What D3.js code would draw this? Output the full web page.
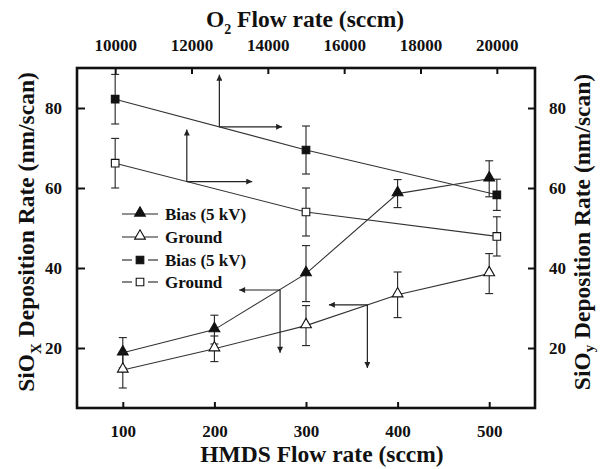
<!DOCTYPE html>
<html>
<head>
<meta charset="utf-8">
<script src="https://cdn.jsdelivr.net/npm/d3@7"></script>
<style>
  body { margin: 0; background: #fff; }
  text { font-family: "Times New Roman", "Liberation Serif", Times, serif; font-weight: bold; fill: #111; }
</style>
</head>
<body>
<svg id="chart" width="602" height="469"></svg>
<script>
// bottom axis series (HMDS flow)
var hmds = [100, 200, 300, 400, 500];
var biasTri = [18.8, 24.6, 38.6, 58.6, 62.3];
var biasTriErr = [3.8, 3.6, 7, 3.5, 4.5];
var groundTri = [14.5, 19.8, 25.6, 33.3, 38.6];
var groundTriErr = [4.5, 3.2, 5, 5.7, 5];

// top axis series (O2 flow)
var o2 = [10000, 15000, 20000];
var biasSq = [82.2, 69.5, 58.3];
var biasSqErr = [6.2, 6, 3.9];
var groundSq = [66.2, 54, 47.9];
var groundSqErr = [6.2, 6, 4.9];

var bottomTicks = [100, 200, 300, 400, 500];
var topTicks = [10000, 12000, 14000, 16000, 18000, 20000];
var yTicks = [20, 40, 60, 80];

var legendLabels = ["Bias (5 kV)", "Ground", "Bias (5 kV)", "Ground"];

// arrows pointing to the axis each curve belongs to (data units)
var arrowsTop = [
  {x: 12730, y: 75.3, vy: 88.3, hx: 14374},
  {x: 11877, y: 61.6, vy: 74.6, hx: 13591}
];
var arrowsBottom = [
  {x: 271.7, y: 34.5, vy: 18.8, hx: 227},
  {x: 367, y: 30.8, vy: 15, hx: 325}
];

var svg = d3.select("#chart");
var L = 77, R = 535, T = 68, B = 408;
var FONT = '"Times New Roman", "Liberation Serif", Times, serif';

var xB = d3.scaleLinear().domain([50, 550]).range([L, R]);
var xT = d3.scaleLinear().domain([9000, 21000]).range([L, R]);
var y = d3.scaleLinear().domain([5, 90]).range([B, T]);

var defs = svg.append("defs");
defs.append("marker")
  .attr("id", "ah")
  .attr("viewBox", "0 0 10 10")
  .attr("refX", 10).attr("refY", 5)
  .attr("markerWidth", 9).attr("markerHeight", 6)
  .attr("markerUnits", "userSpaceOnUse")
  .attr("orient", "auto")
  .append("path").attr("d", "M0,0L10,5L0,10Z").attr("fill", "#222");

// axes, ticks inward
function tickAxis(axis, tr) {
  var g = svg.append("g").attr("transform", tr).call(axis);
  g.attr("font-family", null);
  g.select(".domain").remove();
  g.selectAll(".tick line").attr("stroke", "#111").attr("stroke-width", 2);
  g.selectAll(".tick text").style("font-size", "17px").style("font-family", FONT).style("font-weight", "bold");
  return g;
}

tickAxis(d3.axisBottom(xB).tickValues(bottomTicks).tickSizeInner(-6).tickPadding(17), "translate(0," + B + ")");
tickAxis(d3.axisTop(xT).tickValues(topTicks).tickSizeInner(-6).tickPadding(17).tickFormat(d3.format("d")), "translate(0," + T + ")");
tickAxis(d3.axisLeft(y).tickValues(yTicks).tickSizeInner(-8).tickPadding(15), "translate(" + L + ",0)");
tickAxis(d3.axisRight(y).tickValues(yTicks).tickSizeInner(-7).tickPadding(14), "translate(" + R + ",0)");

svg.append("rect")
  .attr("x", L).attr("y", T).attr("width", R - L).attr("height", B - T)
  .attr("fill", "none").attr("stroke", "#111").attr("stroke-width", 2.6);

// axis titles
var bt = svg.append("text").attr("x", 322).attr("y", 462).attr("text-anchor", "middle").style("font-size", "23.5px");
bt.text("HMDS Flow rate (sccm)");

var tt = svg.append("text").attr("x", 305).attr("y", 27).attr("text-anchor", "middle").style("font-size", "23.5px");
tt.append("tspan").text("O");
tt.append("tspan").attr("dy", 7).style("font-size", "14px").text("2");
tt.append("tspan").attr("dy", -7).text(" Flow rate (sccm)");

function yTitle(x, sub, sdy) {
  var t = svg.append("text")
    .attr("transform", "translate(" + x + ",232) rotate(-90)")
    .attr("text-anchor", "middle").style("font-size", "23.5px");
  t.append("tspan").text("SiO");
  t.append("tspan").attr("dy", sdy).style("font-size", "15px").text(sub);
  t.append("tspan").attr("dy", -sdy).text(" Deposition Rate (nm/scan)");
}
yTitle(34, "X", 7);
yTitle(590, "y", 4);

var plot = svg.append("g");
var line = d3.line();

function series(xs, xScale, vals, errs, shape, filled) {
  var pts = xs.map(function (d, i) { return [xScale(d), y(vals[i])]; });
  plot.append("path").attr("d", line(pts)).attr("fill", "none").attr("stroke", "#333").attr("stroke-width", 1.1);
  var eb = plot.append("g").attr("stroke", "#222").attr("stroke-width", 1.1);
  xs.forEach(function (d, i) {
    var cx = xScale(d);
    var y0 = y(vals[i] - errs[i]), y1 = y(vals[i] + errs[i]);
    eb.append("line").attr("x1", cx).attr("x2", cx).attr("y1", y0).attr("y2", y1);
    eb.append("line").attr("x1", cx - 4).attr("x2", cx + 4).attr("y1", y0).attr("y2", y0);
    eb.append("line").attr("x1", cx - 4).attr("x2", cx + 4).attr("y1", y1).attr("y2", y1);
  });
  pts.forEach(function (p) { marker(plot, p[0], p[1], shape, filled); });
}

function marker(g, cx, cy, shape, filled) {
  var sym = shape === "tri" ? d3.symbolTriangle : d3.symbolSquare;
  var size = shape === "tri" ? 50 : 58;
  g.append("path")
    .attr("d", d3.symbol().type(sym).size(size)())
    .attr("transform", "translate(" + cx + "," + (shape === "tri" ? cy - 1 : cy) + ")")
    .attr("fill", filled ? "#111" : "#fff")
    .attr("stroke", "#111").attr("stroke-width", 1.1);
}

series(o2, xT, biasSq, biasSqErr, "sq", true);
series(o2, xT, groundSq, groundSqErr, "sq", false);
series(hmds, xB, biasTri, biasTriErr, "tri", true);
series(hmds, xB, groundTri, groundTriErr, "tri", false);

// arrows
var ag = svg.append("g").attr("stroke", "#222").attr("stroke-width", 1.2).attr("fill", "none");
function drawArrows(list, xScale) {
  list.forEach(function (a) {
    var x0 = xScale(a.x), y0 = y(a.y);
    ag.append("line").attr("x1", x0).attr("y1", y0).attr("x2", x0).attr("y2", y(a.vy)).attr("marker-end", "url(#ah)");
    ag.append("line").attr("x1", x0).attr("y1", y0).attr("x2", xScale(a.hx)).attr("y2", y0).attr("marker-end", "url(#ah)");
  });
}
drawArrows(arrowsTop, xT);
drawArrows(arrowsBottom, xB);

// legend
var legRows = [214, 237, 260, 282];
var legShapes = [["tri", true], ["tri", false], ["sq", true], ["sq", false]];
var lg = svg.append("g");
legendLabels.forEach(function (lab, i) {
  var ly = legRows[i];
  if (legShapes[i][0] === "tri") {
    lg.append("line").attr("x1", 122).attr("x2", 158).attr("y1", ly).attr("y2", ly).attr("stroke", "#222").attr("stroke-width", 1.1);
  } else {
    lg.append("line").attr("x1", 122).attr("x2", 132).attr("y1", ly).attr("y2", ly).attr("stroke", "#222").attr("stroke-width", 1.1);
    lg.append("line").attr("x1", 148).attr("x2", 158).attr("y1", ly).attr("y2", ly).attr("stroke", "#222").attr("stroke-width", 1.1);
  }
  marker(lg, 140, ly, legShapes[i][0], legShapes[i][1]);
  lg.append("text").attr("x", 165).attr("y", ly + 6).style("font-size", "17px").text(lab);
});
</script>
</body>
</html>
